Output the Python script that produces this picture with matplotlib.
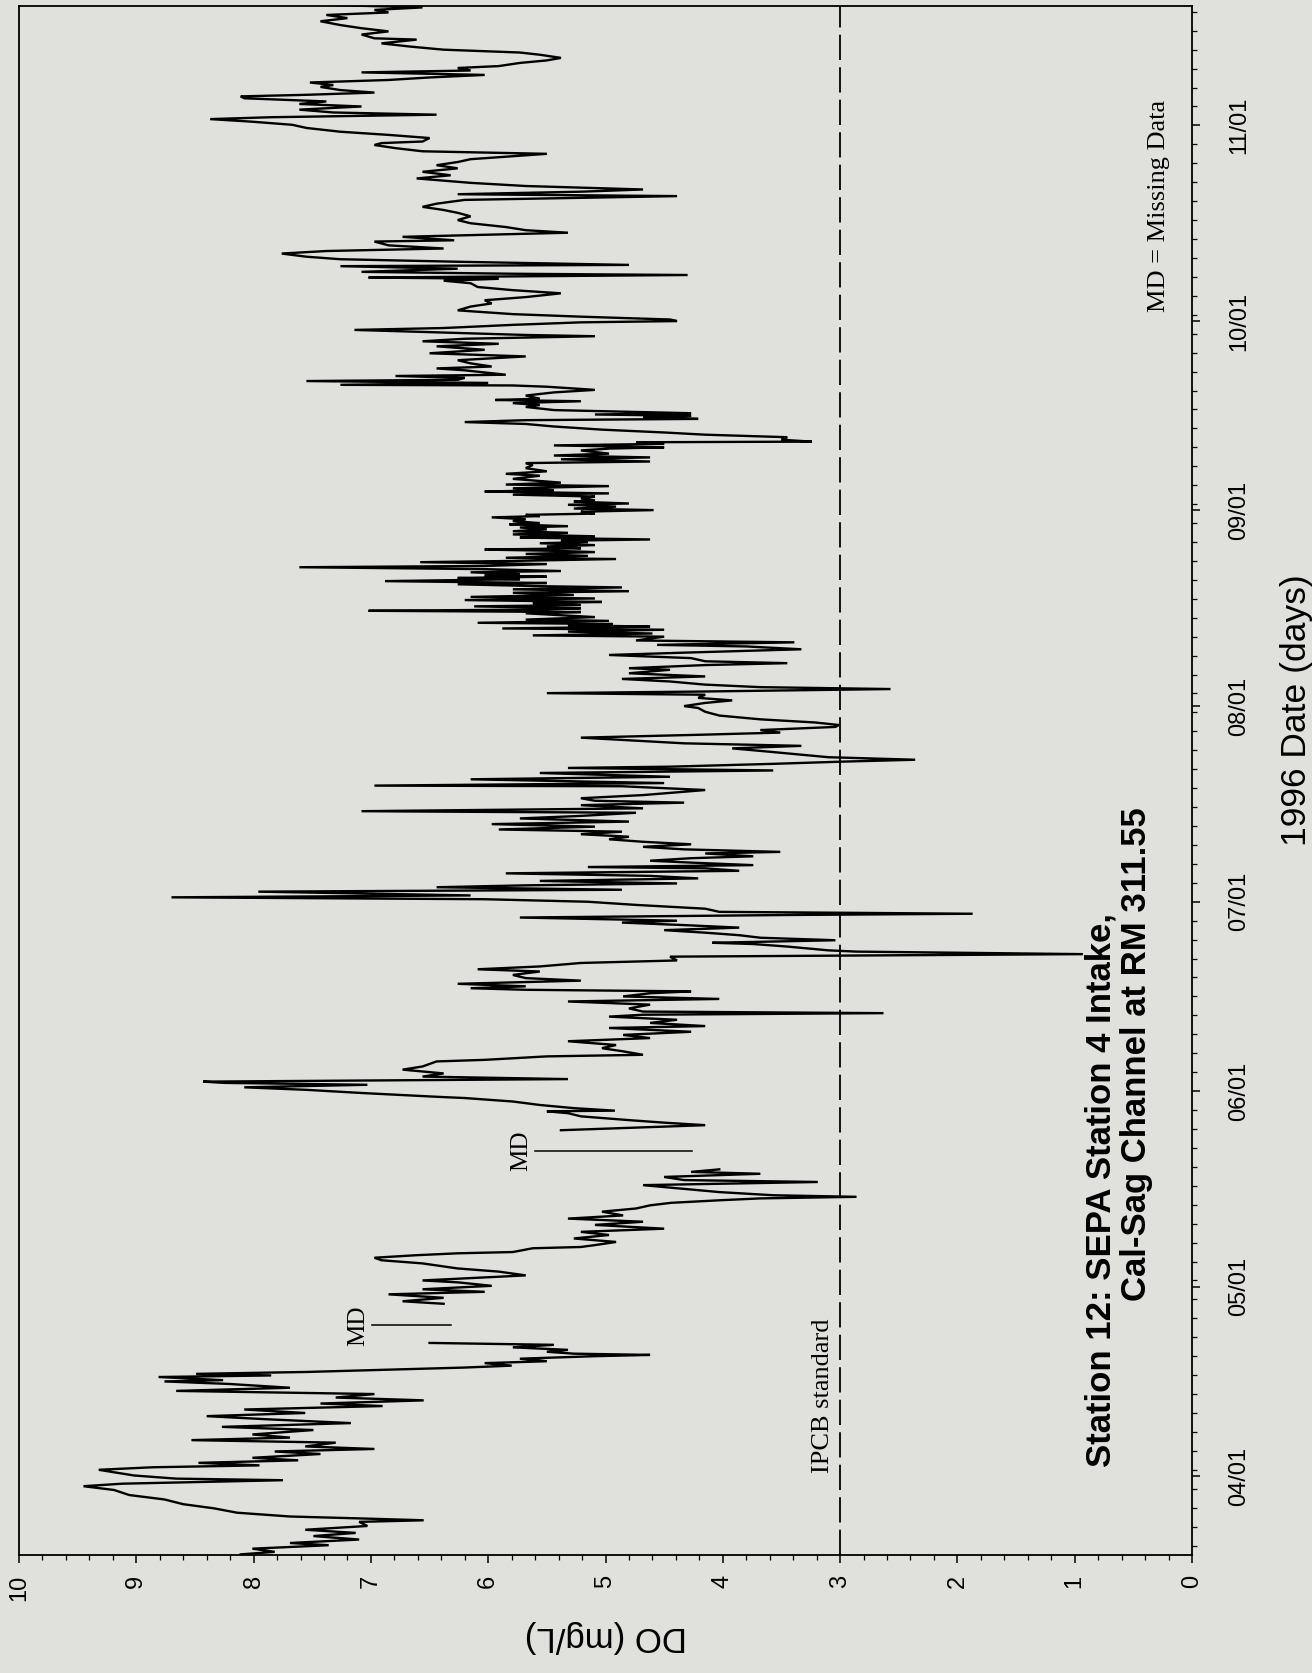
import numpy as np
import matplotlib
matplotlib.use("Agg")
import matplotlib.pyplot as plt

# ---------------- data (day of year 1996, DO in mg/L) ----------------
# segment before first missing-data gap
day_seg1 = [79.6, 80.0, 80.5, 81.05, 81.4, 81.95, 82.5, 83.0, 83.5, 84.1, 84.75, 85.0, 85.3, 85.6,
            86.2, 86.9, 87.55, 88.3, 89.0, 89.8, 90.4, 90.8, 91.35, 91.6, 92.1, 93.0, 93.4, 93.7,
            94.1, 94.5, 94.9, 95.5, 95.9, 96.3, 96.7, 97.3, 97.7, 98.1, 98.6, 99.3, 99.8, 100.4,
            101.0, 101.5, 102.0, 102.55, 103.1, 103.5, 104.0, 104.45, 105.0, 105.5, 106.0, 106.6,
            107.0, 107.2, 107.7, 107.95, 108.2, 108.5, 108.8, 109.2, 109.5, 109.9, 110.2, 110.6,
            111.0, 111.2, 111.4, 111.7, 112.0, 112.4, 112.8, 113.1]
do_seg1 = [8.11, 7.82, 8.01, 7.36, 7.69, 7.10, 7.49, 7.13, 7.56, 7.03, 7.10, 6.55, 7.10, 7.69,
           8.14, 8.34, 8.60, 8.76, 9.06, 9.19, 9.45, 9.12, 7.75, 8.66, 9.02, 9.32, 8.86, 7.95,
           8.47, 7.62, 8.01, 7.43, 7.82, 6.97, 7.56, 7.30, 8.53, 7.69, 8.01, 7.49, 8.27, 7.17,
           7.88, 8.40, 7.56, 8.08, 6.90, 7.43, 6.55, 7.30, 6.97, 8.66, 7.69, 8.21,
           8.76, 8.26, 8.81, 7.85, 8.49, 7.55, 6.97, 6.20, 5.80, 6.03, 5.50, 5.73,
           5.09, 4.62, 5.27, 5.50, 5.32, 5.79, 5.44, 6.50]

# segment between the two gaps
day_seg2 = [119.3, 119.7, 120.25, 120.8, 121.2, 121.6, 122.15, 122.7, 123.0, 123.8, 124.4, 124.9,
            125.7, 126.2, 126.6, 127.0, 127.3, 127.5, 128.1, 128.3, 128.6, 129.1, 129.65, 130.2,
            130.7, 131.2, 131.8, 132.3, 132.8, 133.3, 133.9, 134.4, 134.9, 135.3, 135.7, 136.0,
            136.25, 136.5, 137.0, 137.6, 138.1, 138.6, 138.9, 139.4, 139.9, 140.2, 140.6]
do_seg2 = [6.38, 6.73, 6.38, 6.85, 6.03, 6.56, 5.97, 6.26, 6.56, 5.68, 5.91, 6.26,
           6.56, 6.91, 6.97, 6.61, 6.26, 5.79, 5.62, 5.21, 5.09, 4.91, 5.27, 4.97,
           5.21, 4.50, 5.09, 4.68, 5.32, 4.85, 5.03, 4.74, 4.62, 4.44, 4.03, 3.68,
           2.86, 3.57, 4.03, 4.39, 4.68, 3.19, 4.33, 4.50, 3.68, 4.27, 4.03]

# after second gap: June
day_jun = [146.8, 147.3, 147.6, 148.0, 148.4, 149.0, 149.5, 149.8, 149.9, 150.3, 150.8, 151.35,
           151.9, 152.1, 152.7, 153.2, 153.6, 154.0, 154.3, 154.5, 154.9, 155.3, 155.8, 156.4,
           156.9, 157.7, 157.95, 158.5, 158.75, 159.3, 159.8, 160.3, 160.9, 161.4, 161.9, 162.4,
           163.0, 163.3, 163.8, 164.3, 164.8, 165.1, 165.35, 165.6, 166.1, 166.7, 167.2, 167.6,
           168.0, 168.5, 168.8, 169.05, 169.3, 169.6, 170.0, 170.5, 170.9, 171.4, 171.95, 172.3,
           172.75, 173.3, 173.7, 174.3, 174.7, 175.1, 175.3, 175.9, 176.3, 176.5, 176.9, 177.3,
           177.7, 178.1, 178.5, 178.9, 179.3, 179.7, 180.0, 180.5, 180.9, 181.1, 181.4, 181.9,
           182.5, 183.0, 183.4]
do_jun = [5.38, 4.62, 4.15, 4.50, 4.80, 5.21, 5.32, 5.50, 4.92, 5.27, 5.56, 5.79,
          6.20, 6.44, 7.08, 7.55, 8.08, 7.03, 8.25, 8.43, 5.32, 6.56, 6.38, 6.73,
          6.56, 6.44, 6.03, 5.50, 4.68, 4.85, 5.03, 4.91, 5.32, 4.62, 4.85, 4.27,
          4.97, 4.15, 4.62, 4.39, 4.97, 4.68, 2.63, 4.68, 4.80, 4.62, 5.32, 4.03,
          4.85, 4.62, 4.27, 5.68, 6.15, 5.68, 6.26, 5.21, 5.68, 5.79, 5.56, 6.09,
          5.56, 5.21, 4.39, 4.45, 0.93, 2.86, 3.10, 3.45, 3.74, 4.09, 3.04, 3.68,
          3.86, 4.15, 4.50, 3.86, 4.33, 4.86, 4.39, 5.73, 3.45, 1.87, 4.03, 4.15,
          4.74, 5.15, 6.03]

# July
day_jul = [183.7, 184.0, 184.6, 184.9, 185.3, 185.6, 185.9, 186.3, 186.7, 187.1, 187.5, 187.9,
           188.3, 188.5, 188.8, 189.2, 189.5, 189.9, 190.2, 190.65, 190.9, 191.3, 191.7, 192.1,
           192.5, 192.9, 193.3, 193.7, 194.1, 194.45, 194.9, 195.3, 195.7, 196.2, 196.6, 197.1,
           197.35, 197.8, 198.3, 198.7, 199.0, 199.4, 199.9, 200.7, 201.3, 201.4, 201.8, 202.4,
           202.8, 203.4, 203.8, 204.2, 204.4, 204.85, 205.2, 205.5, 205.9, 206.3, 206.8, 207.3,
           207.7, 208.1, 208.65, 209.0, 209.45, 209.8, 210.2, 210.7, 211.0, 211.4, 211.9, 212.5,
           213.1, 213.7, 214.0]
do_jul = [8.70, 6.15, 7.96, 4.86, 6.44, 5.68, 4.39, 5.56, 4.21, 4.62, 5.85, 3.86,
          4.15, 5.15, 3.74, 4.27, 4.62, 4.27, 3.74, 4.15, 3.51, 4.33, 4.68, 4.27,
          4.68, 4.97, 4.80, 5.21, 4.86, 5.91, 5.09, 5.97, 4.80, 5.73, 5.21, 4.74,
          7.08, 4.68, 5.21, 4.33, 5.09, 5.21, 4.68, 4.15, 4.86, 6.97, 4.50, 6.15,
          4.45, 5.56, 3.57, 5.32, 4.45, 3.57, 2.98, 2.36, 3.10, 3.33, 3.62, 3.92,
          3.33, 4.33, 4.86, 5.21, 4.21, 3.51, 3.68, 3.04, 3.01, 3.21, 3.68, 4.03,
          4.15, 4.21, 4.33]

# August
day_aug = [214.5, 214.9, 215.3, 215.8, 216.05, 216.3, 216.7, 217.0, 217.4, 217.9, 218.3, 218.7,
           219.2, 219.75, 220.0, 220.5, 220.8, 221.1, 221.6, 222.1, 222.5, 223.0, 223.45, 223.7,
           224.1, 224.4, 225.0, 225.2, 225.5, 225.8, 226.1, 226.3, 226.6, 226.8, 227.0, 227.2,
           227.5, 227.7, 228.1, 228.4, 228.7, 228.9, 229.1, 229.3, 229.5, 229.8, 230.0, 230.3,
           230.5, 230.8, 231.05, 231.3, 231.6, 231.95, 232.2, 232.5, 232.8, 233.0, 233.3, 233.5,
           233.8, 234.1, 234.3, 234.5, 234.7, 234.9, 235.2, 235.4, 235.7, 236.0, 236.2, 236.5,
           236.8, 237.0, 237.3, 237.5, 237.8, 238.1, 238.4, 238.6, 238.8, 239.0, 239.3, 239.5,
           239.8, 240.0, 240.2, 240.4, 240.7, 240.9, 241.2, 241.45, 241.7, 242.0, 242.3, 242.5,
           242.8, 243.0, 243.3, 243.6, 243.9, 244.1, 244.3, 244.5, 244.8]
do_aug = [4.15, 3.92, 4.21, 4.15, 5.50, 4.21, 2.57, 3.68, 4.15, 4.45, 4.86, 4.15,
          4.80, 4.45, 4.80, 4.15, 3.45, 4.15, 4.27, 4.97, 4.27, 3.33, 3.80, 4.56,
          3.39, 4.74, 4.50, 5.62, 4.60, 5.32, 4.50, 5.88, 4.62, 5.32, 4.94, 6.09,
          4.97, 5.68, 5.09, 5.38, 5.68, 5.21, 7.02, 5.50, 5.21, 6.12, 5.21, 5.62,
          5.03, 6.20, 5.09, 6.15, 5.27, 5.79, 4.80, 5.79, 4.86, 5.56, 6.26, 5.50,
          6.88, 5.73, 6.26, 5.50, 6.03, 5.73, 6.15, 5.38, 6.03, 7.61, 6.03, 5.50,
          6.58, 5.79, 4.91, 5.85, 5.15, 5.68, 5.09, 5.44, 6.03, 5.21, 5.50, 5.09,
          5.56, 5.15, 5.38, 4.62, 5.73, 5.09, 5.79, 5.32, 5.79, 5.50, 5.73, 5.32,
          5.82, 5.56, 5.79, 5.68, 5.97, 5.56, 5.68, 5.09, 5.21]

# September
day_sep = [245.05, 245.3, 245.6, 245.9, 246.1, 246.4, 246.6, 246.9, 247.2, 247.5, 247.7, 248.0,
           248.2, 248.5, 248.85, 249.1, 249.4, 250.0, 250.5, 250.8, 251.2, 251.7, 252.2, 252.5,
           252.75, 253.1, 253.4, 253.7, 254.0, 254.5, 254.8, 255.0, 255.3, 255.55, 255.8, 255.9,
           256.2, 256.6, 257.0, 257.35, 257.8, 258.3, 258.7, 259.0, 259.3, 259.5, 259.8, 260.0,
           260.2, 260.4, 260.9, 261.4, 261.7, 262.0, 262.3, 262.5, 262.7, 263.2, 263.7, 264.1,
           264.6, 264.8, 264.9, 265.2, 265.5, 265.7, 266.0, 266.3, 266.5, 267.2, 267.5, 267.8,
           268.3, 268.8, 269.4, 269.9, 270.45, 271.0, 271.4, 271.8, 272.2, 272.6, 272.8, 273.35,
           273.6, 273.9, 274.4, 274.8]
do_sep = [4.59, 5.27, 4.91, 5.32, 4.80, 5.27, 5.09, 5.21, 5.09, 5.79, 4.97, 6.03,
          5.44, 5.79, 4.97, 5.85, 5.38, 5.79, 5.56, 5.85, 5.50, 5.68, 5.62, 5.68,
          4.62, 5.38, 4.62, 5.44, 4.97, 5.21, 4.97, 4.50, 5.44, 4.50, 4.74, 3.24,
          3.50, 3.45, 4.15, 4.50, 5.03, 5.44, 5.68, 6.20, 5.68, 4.21, 4.68, 4.27,
          5.09, 4.27, 5.44, 5.68, 5.56, 5.79, 5.21, 5.94, 5.56, 5.68, 5.44, 5.09,
          5.50, 5.79, 7.26, 6.00, 7.55, 6.26, 6.20, 6.79, 5.85, 6.20, 6.44, 5.97,
          6.15, 6.26, 5.68, 6.50, 6.03, 6.44, 5.91, 6.56, 6.20, 5.09, 5.68, 6.67,
          7.14, 6.38, 5.79, 5.21]

# October - November
day_octnov = [275.0, 275.25, 275.7, 276.1, 276.7, 277.3, 277.8, 278.3, 278.8, 279.4, 279.9, 280.4,
              281.0, 281.4, 281.7, 281.9, 282.3, 282.5, 282.8, 283.3, 283.7, 283.9, 284.4, 284.8,
              285.2, 285.7, 286.1, 286.5, 287.0, 287.6, 287.8, 288.35, 289.0, 289.4, 289.9, 290.5,
              291.0, 291.6, 292.15, 292.6, 293.1, 293.6, 294.2, 294.8, 295.1, 295.5, 295.85, 296.4,
              296.9, 297.6, 298.1, 298.65, 299.2, 299.7, 300.2, 300.65, 301.5, 301.9, 302.4, 302.9,
              303.2, 303.45, 304.0, 304.5, 305.0, 305.6, 306.1, 306.6, 307.0, 307.3, 307.7, 308.05,
              308.5, 309.0, 309.4, 309.8, 310.3, 310.6, 310.85, 311.2, 311.6, 312.1, 312.4, 312.8,
              313.2, 313.6, 314.0, 314.4, 314.7, 315.1, 315.4, 315.9, 316.3, 316.7, 317.2, 317.55,
              318.0, 318.5, 319.0, 319.6, 319.8, 320.4, 320.9, 321.4, 321.9, 322.5, 323.0, 323.5,
              323.9, 324.3, 324.7, 325.1, 325.5]
do_octnov = [4.39, 4.45, 5.21, 5.79, 6.26, 6.15, 5.97, 6.03, 5.68, 5.38, 5.79, 6.09,
             6.15, 6.38, 5.91, 7.02, 4.30, 5.79, 7.08, 6.26, 7.26, 4.80, 6.26, 7.26,
             7.55, 7.76, 7.38, 6.38, 6.85, 6.97, 6.29, 6.73, 5.32, 5.68, 5.85, 6.15,
             6.26, 6.15, 6.26, 6.38, 6.56, 6.44, 6.20, 4.39, 6.26, 5.21, 4.68, 5.68,
             6.15, 6.61, 6.32, 6.56, 6.26, 6.44, 6.26, 6.15, 5.50, 6.56, 6.79, 6.97,
             6.91, 6.56, 6.50, 6.85, 7.26, 7.55, 7.67, 8.02, 8.37, 7.85, 6.44, 7.32,
             7.61, 7.08, 7.61, 7.38, 8.08, 8.11, 7.55, 6.97, 7.26, 7.43, 7.32, 7.52,
             6.85, 6.50, 6.03, 7.08, 6.15, 6.26, 5.91, 5.73, 5.50, 5.38, 5.56, 5.73,
             6.38, 6.67, 6.91, 6.61, 6.97, 7.08, 6.85, 7.08, 7.26, 7.43, 7.20, 7.38,
             6.85, 6.97, 6.56, 7.38, 6.85]

# axis ticks / annotations
month_days = [92, 122, 153, 183, 214, 245, 275, 306]
month_labels = ["04/01", "05/01", "06/01", "07/01", "08/01", "09/01", "10/01", "11/01"]
do_ticks = [0, 1, 2, 3, 4, 5, 6, 7, 8, 9, 10]
ipcb_standard = 3.0
md_days = [115.9, 143.5]
md_do_from = [6.99, 5.60]
md_do_to = [6.32, 4.26]

# ---------------- build series with gaps ----------------
nan = [np.nan]
day_all = np.array(day_seg1 + nan + day_seg2 + nan + day_jun + day_jul + day_aug + day_sep + day_octnov)
do_all = np.array(do_seg1 + nan + do_seg2 + nan + do_jun + do_jul + do_aug + do_sep + do_octnov)

BG = "#e0e1dd"
W, H = 1312, 1673
fig = plt.figure(figsize=(W / 100, H / 100), dpi=100, facecolor=BG)
x0, x1, ytop, ybot = 19, 1192, 5.5, 1555
ax = fig.add_axes([x0 / W, (H - ybot) / H, (x1 - x0) / W, (ybot - ytop) / H])
ax.set_facecolor(BG)

sans = "Liberation Sans"
serif = "Liberation Serif"

ax.plot(do_all, day_all, color="black", lw=1.7, solid_joinstyle="miter")
ax.axvline(ipcb_standard, color="black", lw=1.3, ls=(0, (14, 4)))

for d, a, b in zip(md_days, md_do_from, md_do_to):
    ax.plot([a, b], [d, d], color="black", lw=1.1)
    ax.text(a + 0.12, d, "MD", rotation=90, ha="center", va="center",
            fontsize=18, family=serif)

ax.set_xlim(10, 0)
ax.set_ylim(79.5, 325.0)

ax.set_xticks(do_ticks)
ax.set_xticklabels([str(t) for t in do_ticks], rotation=90, family=sans, fontsize=17)
ax.set_xticks(np.arange(0, 10.001, 0.2), minor=True)

ax.yaxis.tick_right()
ax.set_yticks(month_days)
ax.set_yticklabels(month_labels, rotation=90, family=sans, fontsize=17, va="center")
ax.set_yticks(np.arange(81, 325, 3), minor=True)

ax.tick_params(axis="x", which="major", direction="out", length=6, width=1.1, pad=8,
               top=False, bottom=True)
ax.tick_params(axis="x", which="minor", direction="out", length=3.5, width=0.9,
               top=False, bottom=True)
ax.tick_params(axis="y", which="major", direction="out", length=6, width=1.1, pad=20,
               left=False, right=True)
ax.tick_params(axis="y", which="minor", direction="out", length=3.5, width=0.9,
               left=False, right=True)

for s in ax.spines.values():
    s.set_color("black")
    s.set_linewidth(1.3)

ax.set_xlabel("DO (mg/L)", rotation=180, fontsize=25, family=sans)
ax.xaxis.set_label_coords(0.5, -0.0525)
ax.xaxis.label.set_va("center")
ax.yaxis.set_label_position("right")
ax.set_ylabel("1996 Date (days)", rotation=90, fontsize=25.5, family=sans)
ax.yaxis.set_label_coords(1.089, 0.545)
ax.yaxis.label.set_va("center")

ax.text(0.78, 93.4, "Station 12: SEPA Station 4 Intake,", rotation=90, rotation_mode="anchor",
        ha="left", va="center", fontsize=25, fontweight="bold", family=sans)
ax.text(0.47, 119.7, "Cal-Sag Channel at RM 311.55", rotation=90, rotation_mode="anchor",
        ha="left", va="center", fontsize=25, fontweight="bold", family=sans)
ax.text(3.15, 104.8, "IPCB standard", rotation=90, ha="center", va="center",
        fontsize=19, family=serif)
ax.text(0.28, 293.3, "MD = Missing Data", rotation=90, ha="center", va="center",
        fontsize=19, family=serif)

fig.savefig("out.png", dpi=100, facecolor=BG)
